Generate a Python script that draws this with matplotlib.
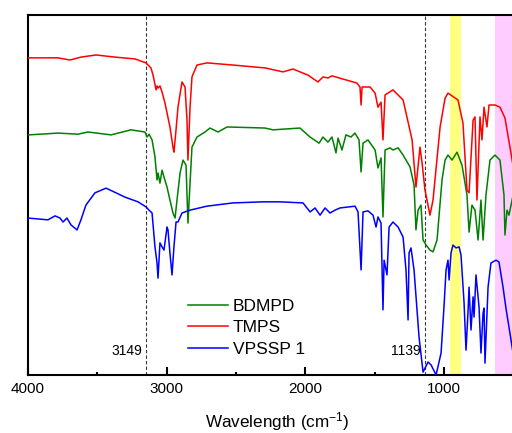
import matplotlib
matplotlib.use("Agg")
import matplotlib.pyplot as plt
import numpy as np

plt.rcParams["font.family"] = ["Liberation Sans", "DejaVu Sans"]
plt.rcParams["mathtext.fontset"] = "custom"
plt.rcParams["mathtext.rm"] = "Liberation Sans"
plt.rcParams["mathtext.it"] = "Liberation Sans:italic"

# TMPS (red), wavenumber / transmittance (a.u.)
wn_tmps = [4000, 3784, 3697, 3618, 3509, 3372, 3228, 3149, 3113, 3098, 3076, 3069,
           3062, 3048, 3033, 3012, 2976, 2954, 2947, 2932, 2918, 2889, 2867, 2853,
           2846, 2831, 2817, 2781, 2709, 2521, 2290, 2160, 2088, 1980, 1908, 1872,
           1836, 1807, 1727, 1627, 1605, 1597, 1590, 1532, 1496, 1475, 1453, 1439,
           1424, 1367, 1294, 1229, 1201, 1172, 1157, 1136, 1100, 1078, 1027, 991,
           970, 898, 862, 833, 818, 789, 775, 761, 739, 725, 710, 689, 674, 631,
           595, 559, 523, 500]
t_tmps = [88.1, 88.1, 87.5, 88.3, 88.9, 88.3, 87.8, 86.7, 85.3, 83.3, 79.2, 80.3,
          79.7, 80.3, 78.6, 75.6, 68.9, 63.3, 61.9, 68.1, 74.4, 81.4, 80.0, 70.8,
          59.7, 74.4, 82.8, 86.1, 86.7, 86.1, 85.3, 84.2, 85.0, 83.3, 81.4, 82.8,
          82.5, 83.1, 82.2, 81.1, 80.0, 75.0, 80.0, 80.0, 78.3, 74.4, 75.8, 65.3,
          77.8, 79.2, 76.4, 65.3, 52.2, 63.3, 58.9, 51.4, 44.4, 48.6, 68.9, 76.9,
          78.3, 76.4, 70.0, 51.4, 50.6, 70.8, 71.7, 48.6, 71.7, 65.3, 74.4, 68.9,
          75.0, 75.0, 74.4, 71.4, 63.3, 58.0]

# BDMPD (green)
wn_bdmpd = [4000, 3906, 3784, 3639, 3567, 3401, 3257, 3156, 3141, 3127, 3105, 3084,
            3069, 3062, 3048, 3033, 3019, 2997, 2976, 2954, 2939, 2925, 2903, 2882,
            2860, 2846, 2831, 2817, 2781, 2723, 2687, 2629, 2564, 2290, 2232, 2038,
            1965, 1900, 1872, 1836, 1807, 1778, 1763, 1735, 1706, 1670, 1641, 1612,
            1597, 1583, 1547, 1496, 1475, 1453, 1439, 1424, 1388, 1367, 1330, 1294,
            1244, 1215, 1201, 1186, 1165, 1150, 1128, 1100, 1078, 1049, 1013, 991,
            970, 941, 905, 869, 833, 818, 797, 775, 753, 732, 717, 696, 667, 631,
            595, 566, 559, 544, 530, 500]
t_bdmpd = [66.7, 66.9, 67.2, 66.9, 67.5, 66.7, 68.1, 67.5, 66.1, 66.9, 65.3, 60.6,
           54.2, 56.1, 53.3, 56.9, 55.0, 52.2, 48.6, 45.0, 43.6, 48.6, 56.1, 59.7,
           58.3, 42.2, 53.3, 63.3, 66.1, 67.5, 68.6, 67.5, 68.9, 68.6, 68.1, 68.6,
           66.1, 64.4, 66.1, 64.7, 66.1, 61.7, 65.8, 62.5, 66.7, 66.1, 67.2, 65.3,
           56.4, 64.4, 65.3, 62.5, 57.5, 60.3, 43.9, 62.5, 63.1, 62.5, 63.1, 61.1,
           57.8, 52.8, 40.3, 45.8, 47.2, 37.5, 36.1, 34.7, 34.2, 37.5, 54.2, 59.7,
           61.1, 59.7, 61.9, 58.3, 50.0, 39.7, 47.2, 45.8, 37.5, 48.6, 37.5, 50.0,
           59.7, 61.1, 59.7, 50.0, 38.9, 45.8, 44.4, 50.0]

# VPSSP 1 (blue)
wn_vpssp = [4000, 3856, 3805, 3769, 3747, 3719, 3690, 3646, 3618, 3582, 3517, 3437,
            3365, 3300, 3206, 3149, 3127, 3105, 3084, 3069, 3062, 3048, 3033, 3019,
            2997, 2990, 2976, 2961, 2947, 2932, 2918, 2889, 2831, 2709, 2521, 2304,
            2182, 2016, 1965, 1929, 1893, 1857, 1821, 1785, 1749, 1641, 1619, 1597,
            1583, 1547, 1511, 1489, 1475, 1453, 1439, 1431, 1410, 1395, 1367, 1330,
            1294, 1273, 1258, 1251, 1237, 1215, 1179, 1150, 1114, 1092, 1056, 1020,
            999, 984, 970, 962, 948, 934, 912, 890, 876, 854, 840, 826, 818, 804,
            789, 782, 768, 746, 732, 717, 710, 703, 681, 660, 624, 602, 573, 552,
            530, 500]
t_vpssp = [43.6, 43.1, 44.2, 43.6, 42.5, 43.6, 41.7, 40.3, 43.1, 47.2, 50.6, 51.9,
           50.6, 49.4, 48.1, 46.7, 45.8, 45.0, 35.6, 31.1, 26.9, 36.7, 35.6, 34.7,
           41.1, 40.3, 33.9, 27.8, 35.6, 42.5, 42.5, 45.0, 45.8, 46.9, 47.8, 48.1,
           48.1, 47.8, 45.3, 46.4, 44.4, 46.4, 45.0, 45.8, 46.4, 46.9, 45.3, 29.2,
           45.3, 45.6, 44.4, 41.1, 43.9, 42.2, 18.1, 31.9, 27.8, 41.1, 42.5, 41.1,
           38.3, 29.2, 15.3, 33.9, 35.3, 29.2, 10.6, 0.8, 3.6, 2.8, 0.0, 6.1,
           18.9, 29.2, 31.9, 26.4, 33.9, 36.1, 35.3, 35.6, 33.3, 20.0, 6.9, 17.2,
           24.4, 12.5, 21.7, 16.1, 27.8, 18.9, 6.1, 17.2, 18.6, 3.3, 24.4, 31.1,
           31.9, 31.4, 24.4, 18.6, 13.3, 6.0]

marks = [3149, 1139]
yellow_band = (955, 876)
pink_band = (631, 380)

fig = plt.figure(figsize=(5.12, 4.33), dpi=100)
ax = fig.add_axes([28 / 512, 58 / 433, 499 / 512, 360 / 433])

ax.axvspan(*yellow_band, color="#ffff80", lw=0, zorder=0)
ax.axvspan(*pink_band, color="#ffccff", lw=0, zorder=0)
for m in marks:
    ax.axvline(m, color="#333333", lw=0.8, ls=(0, (3, 2)), zorder=1)
    ax.text(m + 30, 6.7, str(m), ha="right", va="center", fontsize=10)

ax.plot(wn_bdmpd, t_bdmpd, color="#008000", lw=1.1, label="BDMPD", zorder=3)
ax.plot(wn_tmps, t_tmps, color="#ff0000", lw=1.1, label="TMPS", zorder=3)
ax.plot(wn_vpssp, t_vpssp, color="#0000ff", lw=1.1, label="VPSSP 1", zorder=3)

ax.set_xlim(4000, 400)
ax.set_ylim(0, 100)
ax.set_yticks([])
ax.set_xticks([4000, 3000, 2000, 1000])
ax.set_xticks([3500, 2500, 1500, 500], minor=True)
ax.tick_params(axis="x", which="major", direction="in", length=6, width=1.5,
               labelsize=11, pad=5)
ax.tick_params(axis="x", which="minor", direction="in", length=2.5, width=1.5)
for s in ax.spines.values():
    s.set_linewidth(1.5)
ax.set_xlabel(r"Wavelength (cm$^{-1}$)", fontsize=12.3, labelpad=10)

ax.legend(loc="upper left", bbox_to_anchor=(0.3206, 0.212), frameon=False,
          borderpad=0, borderaxespad=0, handlelength=2.3, handletextpad=0.3,
          labelspacing=0.36, fontsize=12.5)

fig.savefig("out.png", dpi=100)
